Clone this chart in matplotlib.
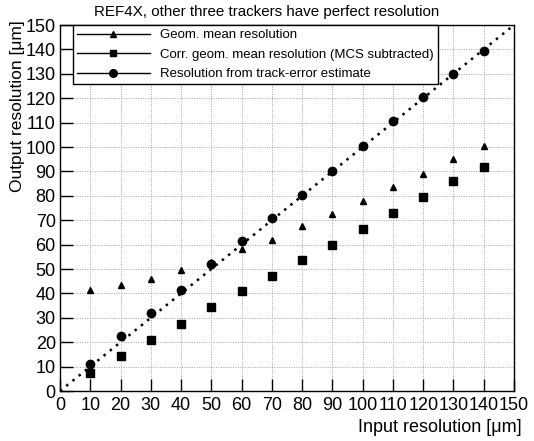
import numpy as np
import matplotlib
matplotlib.use("Agg")
import matplotlib.pyplot as plt

plt.rcParams['font.family'] = ['Liberation Sans', 'DejaVu Sans']

x_in = [10, 20, 30, 40, 50, 60, 70, 80, 90, 100, 110, 120, 130, 140]
geom_mean = [41.5, 43.5, 46, 49.5, 53, 58, 62, 67.5, 72.5, 78, 83.5, 89, 95, 100.5]
corr_geom = [7.5, 14.5, 21, 27.5, 34.5, 41, 47, 53.5, 60, 66.5, 73, 79.5, 86, 92]
track_err = [11, 22.5, 32, 41.5, 52, 61.5, 71, 80.5, 90, 100.5, 110.5, 120.5, 130, 139.5]
ticks = list(range(0, 151, 10))

fig = plt.figure(figsize=(5.34, 4.41), dpi=100)
ax = fig.add_axes([60 / 534, 1 - 391 / 441, 454 / 534, 366 / 441])

ax.plot([0, 150], [0, 150], color='black', ls=(0, (1.0, 2.2)), lw=1.8, zorder=2)
ax.plot(x_in, geom_mean, ls='none', marker='^', ms=4.8, color='black', label='Geom. mean resolution', zorder=3)
ax.plot(x_in, corr_geom, ls='none', marker='s', ms=5.2, color='black',
        label='Corr. geom. mean resolution (MCS subtracted)', zorder=3)
ax.plot(x_in, track_err, ls='none', marker='o', ms=6, color='black',
        label='Resolution from track-error estimate', zorder=3)

ax.set_xlim(0, 150)
ax.set_ylim(0, 150)
ax.set_xticks(ticks)
ax.set_yticks(ticks)
ax.grid(True, color='#a0a0a0', ls=(0, (1, 1.5)), lw=0.7)
ax.tick_params(direction='in', length=9, width=1, labelsize=13)
ax.tick_params(axis='x', pad=4)
ax.tick_params(axis='y', pad=3)
for s in ax.spines.values():
    s.set_linewidth(1)

ax.set_xlabel('Input resolution [\u03bcm]', fontsize=13, ha='right', va='center')
ax.xaxis.set_label_coords((522 - 60) / 454, (391 - 427) / 366)
ax.set_ylabel('Output resolution [\u03bcm]', fontsize=12.5, ha='right', va='center')
ax.yaxis.set_label_coords((18 - 60) / 454, (391 - 20) / 366)
fig.text(0.5, 1 - 12 / 441, 'REF4X, other three trackers have perfect resolution',
         ha='center', va='center', fontsize=10.9)

leg_h = [ax.plot([], [], color='black', lw=1, marker=m, ms=s)[0]
         for m, s in [('^', 4.5), ('s', 5), ('o', 5.5)]]
leg = ax.legend(leg_h, [h.get_label() for h in ax.get_lines()[1:4]],
                loc='upper left', bbox_to_anchor=(4.3 / 150, 1.0), fontsize=9.5,
                frameon=True, fancybox=False, edgecolor='black', framealpha=1,
                handlelength=5.5, borderaxespad=0, borderpad=0.3, labelspacing=0.55,
                markerfirst=True)
leg.get_frame().set_linewidth(1)

fig.savefig('out.png', dpi=100)
